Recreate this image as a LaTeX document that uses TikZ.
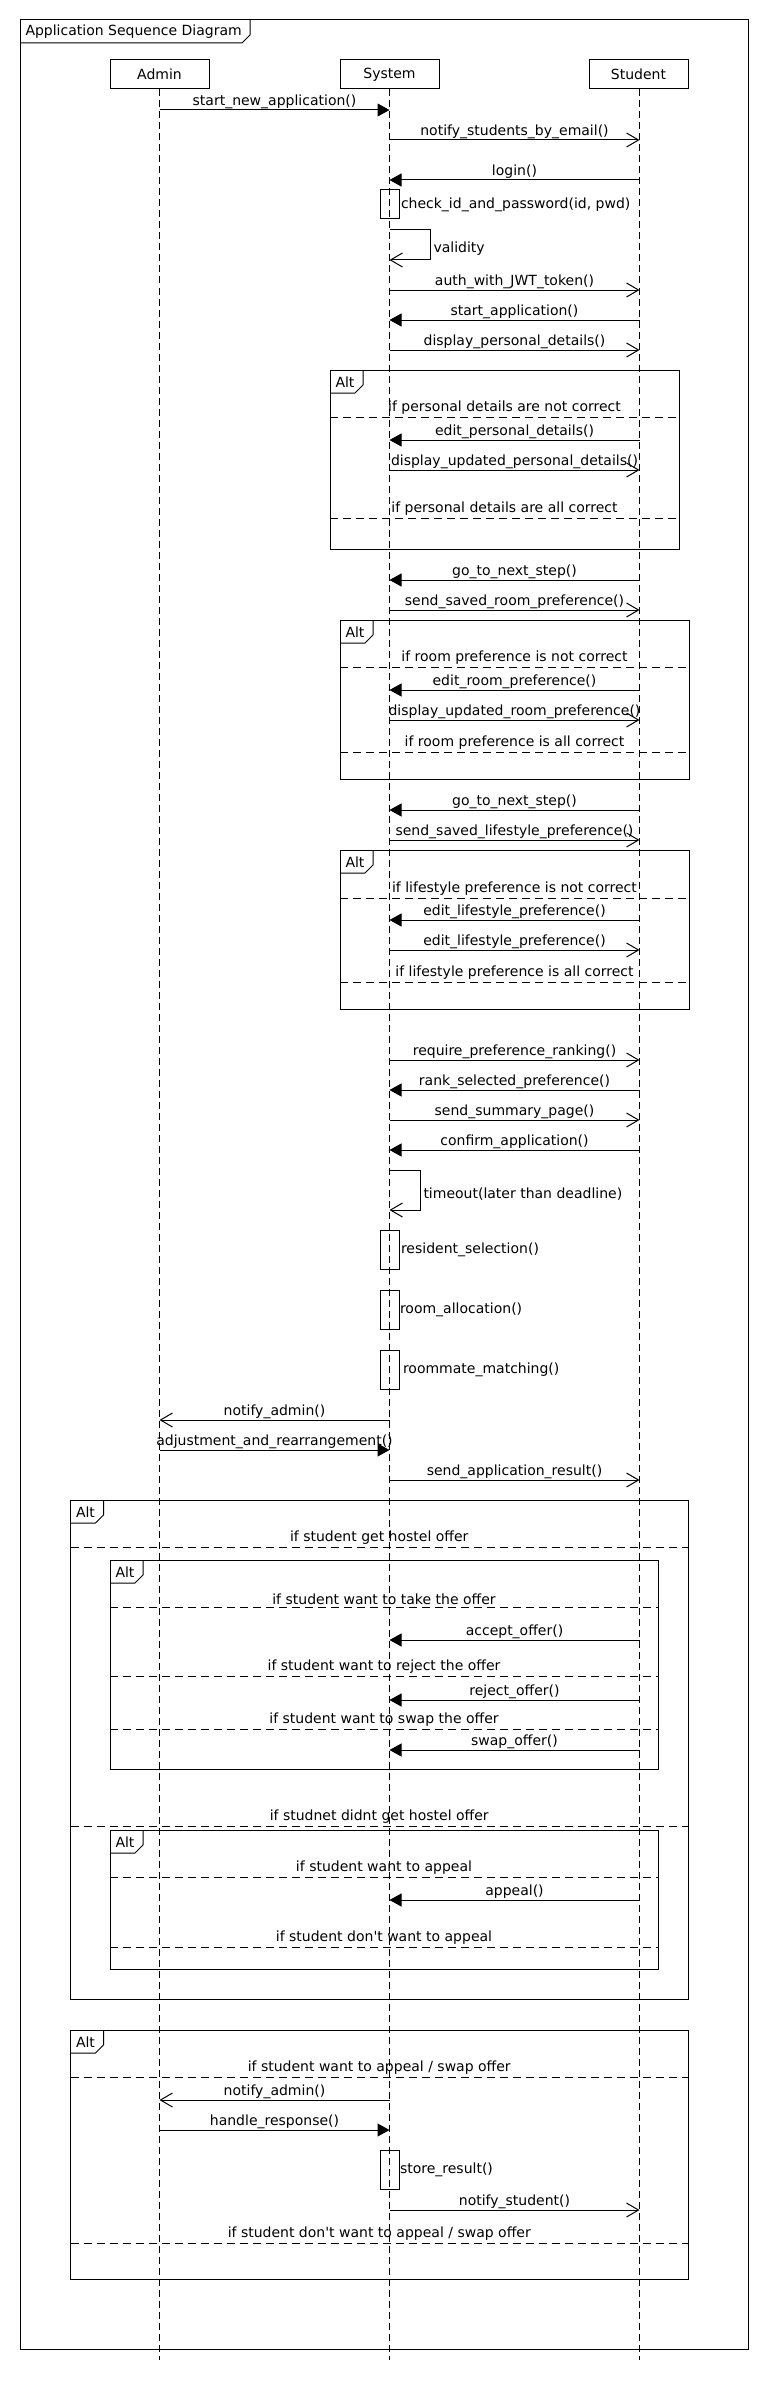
\documentclass[tikz,border=0pt]{standalone}
\usepackage{fontspec}
\setmainfont{DejaVu Sans}
\usepackage{tikz}
\usetikzlibrary{positioning,arrows.meta}

% combined fragment: name, left, top, right, bottom
\newcommand{\altframe}[5]{%
  \draw (#2,#3) rectangle (#4,#5);
  \draw (#2,#3+23) -- (#2+25,#3+23) -- (#2+33,#3+15) -- (#2+33,#3);
  \node[anchor=west, inner sep=0pt] (#1) at (#2+5,#3+12) {Alt};
}
% guard line: name, left, right, y, text
\newcommand{\guard}[5]{%
  \draw[sep] (#2,#4) -- (#3,#4) node[midway, above, inner sep=2pt] (#1) {#5};
}

\begin{document}
\begin{tikzpicture}[x=1pt, y=-1pt, line width=1pt,
    font=\fontsize{14}{16}\selectfont,
    actor/.style={draw, minimum width=99pt, minimum height=29pt, inner sep=0pt},
    life/.style={dash pattern=on 7pt off 4pt},
    sep/.style={dash pattern=on 8pt off 5pt},
    call/.style={-{Triangle[length=12pt,width=13pt]}},
    reply/.style={-{Straight Barb[length=12pt,width=14pt]}},
    lbl/.style={midway, above, inner sep=1pt, text depth=3pt},
    act/.style={draw, minimum width=19pt, minimum height=39pt, inner sep=0pt},
    note/.style={anchor=west, inner sep=1pt}]
        \useasboundingbox (0,0) rectangle (770,2400);

        % outer frame
        \draw (20,20) rectangle (748,2349);
        \draw (20,43) -- (242,43) -- (250,35) -- (250,20);
        \node[anchor=west, inner sep=0pt] (title) at (25,32) {Application Sequence Diagram};

        % participants and lifelines
        \node[actor] (admin) at (159.5,74.5) {Admin};
        \node[actor] (system) at (389.5,74.5) {System};
        \node[actor] (student) at (638.5,74.5) {Student};
        \coordinate (aEnd) at (159.5,2360);
        \coordinate (sEnd) at (389.5,2360);
        \coordinate (tEnd) at (639.5,2360);
        \draw[life] (admin.south) -- (aEnd);
        \draw[life] (system.south) -- (sEnd);
        \draw[life] ([xshift=1pt]student.south) -- (tEnd);

        % message rows on each lifeline
        \foreach \y in {110,140,180,230,260,290,320,350,440,470,580,610,690,720,
                        810,840,920,950,1060,1090,1120,1150,1170,1210,1420,1450,
                        1480,1640,1700,1750,1900,2100,2130,2210} {
            \coordinate (a\y) at (159.5,\y);
            \coordinate (s\y) at (389.5,\y);
            \coordinate (t\y) at (639.5,\y);
        }

        % login
        \draw[call] (a110) -- (s110) node[lbl] {start\_new\_application()};
        \draw[reply] (s140) -- (t140) node[lbl] {notify\_students\_by\_email()};
        \draw[call] (t180) -- (s180) node[lbl] {login()};
        \node[act, minimum height=29pt] (check) at (389.5,204.5) {};
        \node[note] (checkL) at (check.east) {check\_id\_and\_password(id, pwd)};
        \draw[reply] (s230) -- ++(40.5,0) |- (s260);
        \node[note] (valid) at (432,249) {validity};
        \draw[reply] (s290) -- (t290) node[lbl] {auth\_with\_JWT\_token()};
        \draw[call] (t320) -- (s320) node[lbl] {start\_application()};
        \draw[reply] (s350) -- (t350) node[lbl] {display\_personal\_details()};

        % personal details
        \altframe{alt1}{330}{370}{679}{549}
        \guard{g11}{330}{679}{417}{if personal details are not correct}
        \draw[call] (t440) -- (s440) node[lbl] {edit\_personal\_details()};
        \draw[reply] (s470) -- (t470) node[lbl] {display\_updated\_personal\_details()};
        \guard{g12}{330}{679}{518}{if personal details are all correct}

        % room preference
        \draw[call] (t580) -- (s580) node[lbl] {go\_to\_next\_step()};
        \draw[reply] (s610) -- (t610) node[lbl] {send\_saved\_room\_preference()};
        \altframe{alt2}{340}{620}{689}{779}
        \guard{g21}{340}{689}{667}{if room preference is not correct}
        \draw[call] (t690) -- (s690) node[lbl] {edit\_room\_preference()};
        \draw[reply] (s720) -- (t720) node[lbl] {display\_updated\_room\_preference()};
        \guard{g22}{340}{689}{752}{if room preference is all correct}

        % lifestyle preference
        \draw[call] (t810) -- (s810) node[lbl] {go\_to\_next\_step()};
        \draw[reply] (s840) -- (t840) node[lbl] {send\_saved\_lifestyle\_preference()};
        \altframe{alt3}{340}{850}{689}{1009}
        \guard{g31}{340}{689}{898}{if lifestyle preference is not correct}
        \draw[call] (t920) -- (s920) node[lbl] {edit\_lifestyle\_preference()};
        \draw[reply] (s950) -- (t950) node[lbl] {edit\_lifestyle\_preference()};
        \guard{g32}{340}{689}{982}{if lifestyle preference is all correct}

        % ranking and confirmation
        \draw[reply] (s1060) -- (t1060) node[lbl] {require\_preference\_ranking()};
        \draw[call] (t1090) -- (s1090) node[lbl] {rank\_selected\_preference()};
        \draw[reply] (s1120) -- (t1120) node[lbl] {send\_summary\_page()};
        \draw[call] (t1150) -- (s1150) node[lbl] {confirm\_application()};
        \draw[reply] (s1170) -- ++(30.5,0) |- (s1210);
        \node[note] (tout) at (422,1194) {timeout(later than deadline)};

        % allocation
        \node[act] (resSel) at (389.5,1249.5) {};
        \node[note] (resSelL) at (resSel.east) {resident\_selection()};
        \node[act] (roomAl) at (389.5,1309.5) {};
        \node[note] (roomAlL) at ([xshift=-1pt]roomAl.east) {room\_allocation()};
        \node[act] (mateM) at (389.5,1369.5) {};
        \node[note] (mateML) at ([xshift=2pt]mateM.east) {roommate\_matching()};
        \draw[reply] (s1420) -- (a1420) node[lbl] {notify\_admin()};
        \draw[call] (a1450) -- (s1450) node[lbl] {adjustment\_and\_rearrangement()};
        \draw[reply] (s1480) -- (t1480) node[lbl] {send\_application\_result()};

        % offer result
        \altframe{alt4}{70.5}{1500}{688}{1999}
        \guard{g41}{70.5}{688}{1547}{if student get hostel offer}
        \altframe{alt5}{110}{1560}{658}{1769}
        \guard{g51}{110}{658}{1607}{if student want to take the offer}
        \draw[call] (t1640) -- (s1640) node[lbl] {accept\_offer()};
        \guard{g52}{110}{658}{1676}{if student want to reject the offer}
        \draw[call] (t1700) -- (s1700) node[lbl] {reject\_offer()};
        \guard{g53}{110}{658}{1729}{if student want to swap the offer}
        \draw[call] (t1750) -- (s1750) node[lbl] {swap\_offer()};
        \guard{g42}{70.5}{688}{1826}{if studnet didnt get hostel offer}
        \altframe{alt6}{110}{1830}{658}{1969}
        \guard{g61}{110}{658}{1877}{if student want to appeal}
        \draw[call] (t1900) -- (s1900) node[lbl] {appeal()};
        \guard{g62}{110}{658}{1947}{if student don\textquotesingle t want to appeal}

        % appeal handling
        \altframe{alt7}{70.5}{2030}{688}{2279}
        \guard{g71}{70.5}{688}{2077}{if student want to appeal / swap offer}
        \draw[reply] (s2100) -- (a2100) node[lbl] {notify\_admin()};
        \draw[call] (a2130) -- (s2130) node[lbl] {handle\_response()};
        \node[act] (store) at (389.5,2169.5) {};
        \node[note] (storeL) at ([xshift=-1pt]store.east) {store\_result()};
        \draw[reply] (s2210) -- (t2210) node[lbl] {notify\_student()};
        \guard{g72}{70.5}{688}{2243}{if student don\textquotesingle t want to appeal / swap offer}
    \end{tikzpicture}
\end{document}
